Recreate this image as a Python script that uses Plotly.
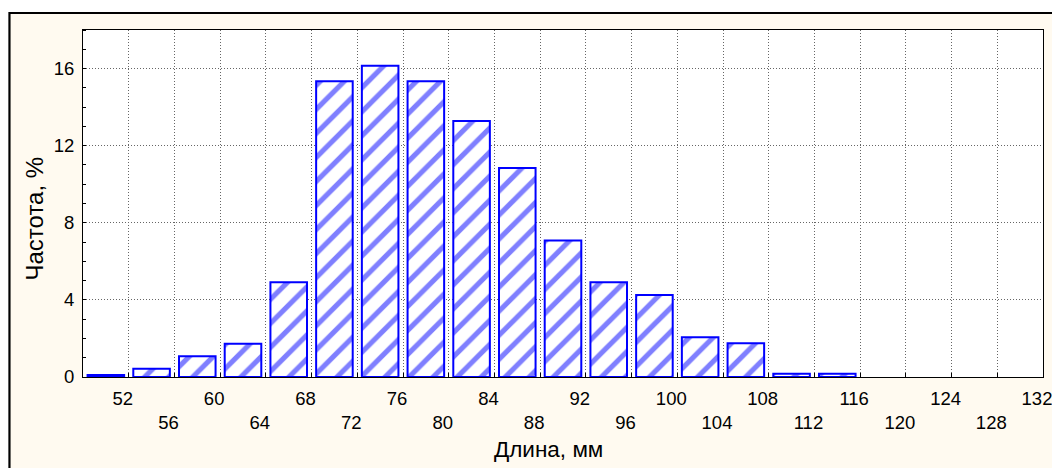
import plotly.graph_objects as go

# Data
bin_centers = [50, 54, 58, 62, 66, 70, 74, 78, 82, 86, 90, 94, 98, 102, 106, 110, 114]
freq_pct = [0.1, 0.43, 1.07, 1.73, 4.92, 15.34, 16.14, 15.34, 13.28, 10.84, 7.08, 4.92, 4.26, 2.06, 1.75, 0.17, 0.17]
x_ticks = list(range(52, 133, 4))
x_ticktext = [str(v) if i % 2 == 0 else "<br>" + str(v) for i, v in enumerate(x_ticks)]
y_ticks = [0, 4, 8, 12, 16]

FONT = "Liberation Sans, Arial, sans-serif"
BLUE = "#0000FF"
CREAM = "#FFFAF0"

fig = go.Figure()
fig.add_trace(go.Bar(
    x=bin_centers, y=freq_pct, width=3.2,
    marker=dict(color="white",
                line=dict(color=BLUE, width=2),
                pattern=dict(shape="/", fgcolor=BLUE, bgcolor="white", size=17, solidity=0.3)),
    showlegend=False,
))

fig.update_layout(
    width=1052, height=460,
    margin=dict(l=75, r=8, t=22, b=91),
    paper_bgcolor="white", plot_bgcolor="white",
    font=dict(family=FONT, color="black", size=18),
    shapes=[
        dict(type="rect", xref="paper", yref="paper", layer="below",
             x0=-0.0766, x1=1.03, y0=-0.32, y1=1.049,
             fillcolor=CREAM, line=dict(color="black", width=2.2)),
        dict(type="rect", xref="paper", yref="paper", layer="below",
             x0=0, x1=1, y0=0, y1=1, fillcolor="white", line=dict(width=0)),
    ],
    annotations=[
        dict(text="Длина, мм", xref="paper", yref="paper", x=0.485, y=-0.2075,
             xanchor="center", yanchor="middle", showarrow=False, font=dict(size=22.5)),
        dict(text="Частота, %", xref="paper", yref="paper", x=-0.0506, y=0.458,
             xanchor="center", yanchor="middle", showarrow=False, textangle=-90,
             font=dict(size=24)),
    ],
    xaxis=dict(
        range=[48, 132], tickmode="array", tickvals=x_ticks, ticktext=x_ticktext,
        ticks="inside", ticklen=4, tickcolor="black", ticklabelshift=-6,
        ticklabelstandoff=5, ticklabeloverflow="allow",
        showgrid=True, gridcolor="#666", griddash="1px,2px", gridwidth=1,
        showline=True, linecolor="black", linewidth=1, mirror=True,
        tickfont=dict(size=18.5),
        zeroline=False,
    ),
    yaxis=dict(
        range=[0, 18], tickmode="array", tickvals=y_ticks,
        ticks="", ticklabelstandoff=4,
        showgrid=True, gridcolor="#666", griddash="1px,2px", gridwidth=1,
        showline=True, linecolor="black", linewidth=1, mirror=True,
        minor=dict(dtick=1, ticks="inside", ticklen=3, tickcolor="black", showgrid=False),
        tickfont=dict(size=18.5),
        zeroline=False,
    ),
)

fig.write_html("out.html")
